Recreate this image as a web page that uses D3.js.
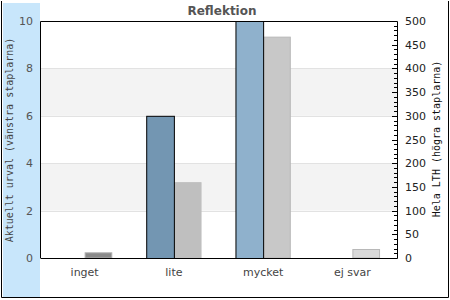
<!DOCTYPE html>
<html>
<head>
<meta charset="utf-8">
<script src="https://cdn.jsdelivr.net/npm/d3@7"></script>
<style>
body { margin: 0; background: #fff; }
text { font-family: "DejaVu Sans", sans-serif; }
</style>
</head>
<body>
<svg></svg>
<script>
var width = 450;
var height = 300;

var categories = ["inget", "lite", "mycket", "ej svar"];
var urval = [0, 6, 10, 0];          // left axis
var helaLTH = [12, 160, 467, 19];   // right axis
var leftTicks = [0, 2, 4, 6, 8, 10];
var rightTicks = [0, 50, 100, 150, 200, 250, 300, 350, 400, 450, 500];

var blueFill = ["#7396b2", "#7396b2", "#8fb1cc", "#8fb1cc"];
var grayFill = ["#8a8a8a", "#bfbfbf", "#c8c8c8", "#d9d9d9"];
var grayStroke = ["#b0b0b0", "#bfbfbf", "#b8b8b8", "#b8b8b8"];

var m = {left: 40, right: 397, top: 21, bottom: 258};

var svg = d3.select("svg")
  .attr("width", width)
  .attr("height", height);

// frame and side band
svg.append("rect").attr("x", 3).attr("y", 3).attr("width", 37).attr("height", 294)
  .attr("fill", "#c8e6fb");
svg.append("path").attr("d", "M1.5,1 V297.5 H448.5 V1")
  .attr("fill", "none").attr("stroke", "#000");

var x = d3.scaleBand().domain(categories)
  .range([m.left, m.right]).paddingInner(0.38).paddingOuter(0.19);
var yL = d3.scaleLinear().domain([0, 10]).range([m.bottom, m.top]);
var yR = d3.scaleLinear().domain([0, 500]).range([m.bottom, m.top]);

// alternating bands
var plot = svg.append("g");
for (var i = 0; i < leftTicks.length - 1; i++) {
  if (i % 2 == 1) {
    plot.append("rect")
      .attr("x", m.left).attr("width", m.right - m.left)
      .attr("y", yL(leftTicks[i+1])).attr("height", yL(leftTicks[i]) - yL(leftTicks[i+1]))
      .attr("fill", "#f3f3f3");
  }
}
plot.selectAll(".grid").data(leftTicks.slice(1, -1)).enter().append("line")
  .attr("x1", m.left).attr("x2", m.right)
  .attr("y1", function(d){ return Math.round(yL(d)) + 0.5; })
  .attr("y2", function(d){ return Math.round(yL(d)) + 0.5; })
  .attr("stroke", "#e2e2e2");

var bw = x.bandwidth() / 2;

// right series (gray)
plot.selectAll(".gray").data(helaLTH).enter().append("rect")
  .attr("x", function(d, i){ return x(categories[i]) + bw + 0.5; })
  .attr("y", function(d){ return yR(d) + 0.5; })
  .attr("width", bw - 1)
  .attr("height", function(d){ return Math.max(0, m.bottom - yR(d) - 0.5); })
  .attr("fill", function(d, i){ return grayFill[i]; })
  .attr("stroke", function(d, i){ return grayStroke[i]; });

// left series (blue)
plot.selectAll(".blue").data(urval).enter().append("rect")
  .filter(function(d){ return d > 0; })
  .attr("x", function(d, i){ return x(categories[urval.indexOf(d)]) + 0.5; })
  .attr("y", function(d){ return yL(d) + 0.5; })
  .attr("width", bw)
  .attr("height", function(d){ return m.bottom - yL(d); })
  .attr("fill", function(d){ return blueFill[urval.indexOf(d)]; })
  .attr("stroke", "#000");

// plot frame
svg.append("path")
  .attr("d", "M" + (m.left + 0.5) + "," + m.bottom + " V" + (m.top + 0.5) + " H" + (m.right + 0.5)
    + " V" + (m.bottom + 0.5) + " H" + (m.left + 0.5))
  .attr("fill", "none").attr("stroke", "#000");

// right axis minor/major ticks (inward)
var minor = d3.range(0, 501, 10);
svg.append("g").selectAll("line").data(minor).enter().append("line")
  .attr("x1", function(d){ return d % 50 == 0 ? m.right - 5 : m.right - 3; })
  .attr("x2", m.right)
  .attr("y1", function(d){ return Math.round(yR(d)) + 0.5; })
  .attr("y2", function(d){ return Math.round(yR(d)) + 0.5; })
  .attr("stroke", "#000");

// tick labels
svg.append("g").selectAll("text").data(leftTicks).enter().append("text")
  .attr("x", 33).attr("y", function(d){ return yL(d) + 4; })
  .attr("text-anchor", "end").attr("font-size", 11).attr("fill", "#555")
  .text(function(d){ return d; });

svg.append("g").selectAll("text").data(rightTicks).enter().append("text")
  .attr("x", 405).attr("y", function(d){ return yR(d) + 4; })
  .attr("font-size", 11).attr("fill", "#222")
  .text(function(d){ return d; });

svg.append("g").selectAll("text").data(categories).enter().append("text")
  .attr("x", function(d){ return x(d) + x.bandwidth() / 2; })
  .attr("y", 276)
  .attr("text-anchor", "middle").attr("font-size", 11).attr("fill", "#444")
  .text(function(d){ return d; });

// titles
svg.append("text").attr("x", 222).attr("y", 15)
  .attr("text-anchor", "middle").attr("font-size", 12).attr("font-weight", "bold")
  .attr("fill", "#555").text("Reflektion");

svg.append("text")
  .attr("transform", "translate(13,140) rotate(-90)")
  .attr("text-anchor", "middle").attr("font-size", 10).attr("fill", "#444")
  .style("font-family", "'DejaVu Sans Mono', monospace")
  .text("Aktuellt urval (vänstra staplarna)");

svg.append("text")
  .attr("transform", "translate(440,139) rotate(-90)")
  .attr("text-anchor", "middle").attr("font-size", 10).attr("fill", "#111")
  .style("font-family", "'DejaVu Sans Mono', monospace")
  .text("Hela LTH (högra staplarna)");
</script>
</body>
</html>
